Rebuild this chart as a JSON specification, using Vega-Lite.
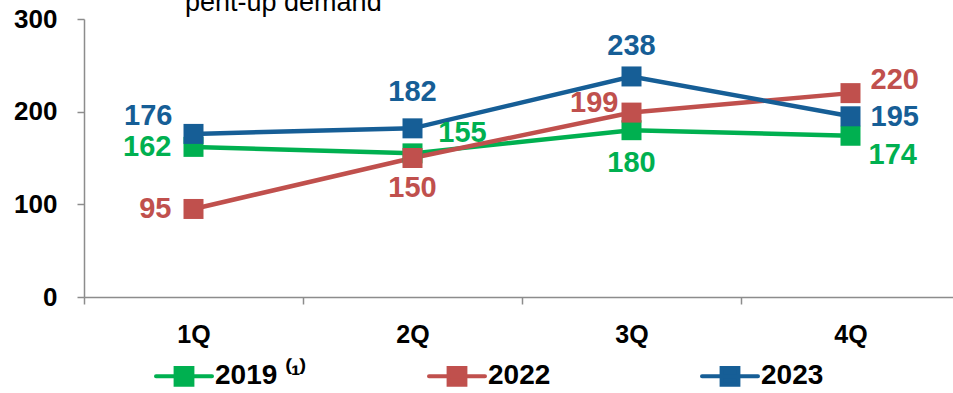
{
  "$schema": "https://vega.github.io/schema/vega-lite/v6.json",
  "autosize": "none",
  "width": 876,
  "height": 278,
  "padding": {"left": 84, "top": 19, "right": 0, "bottom": 96},
  "background": "white",
  "title": {
    "text": "pent-up demand",
    "font": "Liberation Sans",
    "fontSize": 27,
    "fontWeight": "normal",
    "color": "#000000",
    "anchor": "start",
    "frame": "group",
    "baseline": "alphabetic",
    "offset": 7,
    "dx": 101,
    "dy": 39
  },
  "data": {
    "values": [
      {"q": "1Q", "year": "2019", "v": 162},
      {"q": "2Q", "year": "2019", "v": 155},
      {"q": "3Q", "year": "2019", "v": 180},
      {"q": "4Q", "year": "2019", "v": 174},
      {"q": "1Q", "year": "2022", "v": 95},
      {"q": "2Q", "year": "2022", "v": 150},
      {"q": "3Q", "year": "2022", "v": 199},
      {"q": "4Q", "year": "2022", "v": 220},
      {"q": "1Q", "year": "2023", "v": 176},
      {"q": "2Q", "year": "2023", "v": 182},
      {"q": "3Q", "year": "2023", "v": 238},
      {"q": "4Q", "year": "2023", "v": 195}
    ]
  },
  "encoding": {
    "x": {
      "field": "q",
      "type": "nominal",
      "sort": ["1Q", "2Q", "3Q", "4Q"],
      "scale": {"type": "band", "paddingInner": 0, "paddingOuter": 0},
      "axis": {
        "title": null,
        "labelAngle": 0,
        "tickBand": "extent",
        "tickSize": 7,
        "tickColor": "#8c8c8c",
        "domainColor": "#8c8c8c",
        "domainWidth": 1.5,
        "tickWidth": 1.5,
        "labelFont": "Liberation Sans",
        "labelFontSize": 25,
        "labelFontWeight": "bold",
        "labelColor": "#000000",
        "labelPadding": 18,
        "grid": false
      }
    },
    "y": {
      "field": "v",
      "type": "quantitative",
      "scale": {"domain": [0, 300], "nice": false, "zero": true},
      "axis": {
        "title": null,
        "values": [0, 100, 200, 300],
        "tickSize": 7,
        "tickColor": "#8c8c8c",
        "domainColor": "#8c8c8c",
        "domainWidth": 1.5,
        "tickWidth": 1.5,
        "labelFont": "Liberation Sans",
        "labelFontSize": 26,
        "labelFontWeight": "bold",
        "labelColor": "#000000",
        "labelPadding": 20,
        "grid": false
      }
    },
    "color": {
      "field": "year",
      "type": "nominal",
      "scale": {"domain": ["2019", "2022", "2023"], "range": ["#00B050", "#C0504D", "#165E96"]},
      "legend": {
        "title": null,
        "orient": "none",
        "direction": "horizontal",
        "legendX": 70,
        "legendY": 327,
        "gridAlign": "all",
        "columnPadding": 114,
        "symbolType": "M-1,0H1M-0.3,-0.3H0.3V0.3H-0.3Z",
        "symbolSize": 3136,
        "symbolStrokeWidth": 4,
        "labelFont": "Liberation Sans",
        "labelFontSize": 28,
        "labelFontWeight": "bold",
        "labelColor": "#000000",
        "labelOffset": 1,
        "labelExpr": "datum.label == '2019' ? '2019 ⁽¹⁾' : datum.label",
        "encode": {
          "symbols": {
            "update": {
              "fill": {"scale": "color", "field": "value"},
              "stroke": {"scale": "color", "field": "value"},
              "strokeCap": {"value": "round"},
              "opacity": {"value": 1}
            }
          }
        }
      }
    }
  },
  "layer": [
    {"mark": {"type": "line", "strokeWidth": 4.5}},
    {"mark": {"type": "point", "shape": "square", "filled": true, "size": 400, "opacity": 1}},
    {
      "transform": [{"filter": "(datum.year == '2019' || datum.year == '2022') && datum.q == '1Q'"}],
      "mark": {"type": "text", "font": "Liberation Sans", "fontSize": 29, "fontWeight": "bold", "align": "right", "baseline": "middle", "dx": -22, "dy": 0},
      "encoding": {"text": {"field": "v"}}
    },
    {
      "transform": [{"filter": "datum.year == '2023' && datum.q == '1Q'"}],
      "mark": {"type": "text", "font": "Liberation Sans", "fontSize": 29, "fontWeight": "bold", "align": "right", "baseline": "middle", "dx": -21, "dy": -18},
      "encoding": {"text": {"field": "v"}}
    },
    {
      "transform": [{"filter": "datum.year == '2023' && datum.q == '2Q'"}],
      "mark": {"type": "text", "font": "Liberation Sans", "fontSize": 29, "fontWeight": "bold", "align": "center", "baseline": "middle", "dx": 0, "dy": -36},
      "encoding": {"text": {"field": "v"}}
    },
    {
      "transform": [{"filter": "datum.year == '2019' && datum.q == '2Q'"}],
      "mark": {"type": "text", "font": "Liberation Sans", "fontSize": 29, "fontWeight": "bold", "align": "center", "baseline": "middle", "dx": 50, "dy": -20},
      "encoding": {"text": {"field": "v"}}
    },
    {
      "transform": [{"filter": "datum.year == '2022' && datum.q == '2Q'"}],
      "mark": {"type": "text", "font": "Liberation Sans", "fontSize": 29, "fontWeight": "bold", "align": "center", "baseline": "middle", "dx": 0, "dy": 30},
      "encoding": {"text": {"field": "v"}}
    },
    {
      "transform": [{"filter": "datum.year == '2023' && datum.q == '3Q'"}],
      "mark": {"type": "text", "font": "Liberation Sans", "fontSize": 29, "fontWeight": "bold", "align": "center", "baseline": "middle", "dx": 0, "dy": -30},
      "encoding": {"text": {"field": "v"}}
    },
    {
      "transform": [{"filter": "datum.year == '2022' && datum.q == '3Q'"}],
      "mark": {"type": "text", "font": "Liberation Sans", "fontSize": 29, "fontWeight": "bold", "align": "right", "baseline": "middle", "dx": -13, "dy": -10},
      "encoding": {"text": {"field": "v"}}
    },
    {
      "transform": [{"filter": "datum.year == '2019' && datum.q == '3Q'"}],
      "mark": {"type": "text", "font": "Liberation Sans", "fontSize": 29, "fontWeight": "bold", "align": "center", "baseline": "middle", "dx": 0, "dy": 33},
      "encoding": {"text": {"field": "v"}}
    },
    {
      "transform": [{"filter": "datum.year == '2022' && datum.q == '4Q'"}],
      "mark": {"type": "text", "font": "Liberation Sans", "fontSize": 29, "fontWeight": "bold", "align": "left", "baseline": "middle", "dx": 20, "dy": -13},
      "encoding": {"text": {"field": "v"}}
    },
    {
      "transform": [{"filter": "datum.year == '2023' && datum.q == '4Q'"}],
      "mark": {"type": "text", "font": "Liberation Sans", "fontSize": 29, "fontWeight": "bold", "align": "left", "baseline": "middle", "dx": 20, "dy": 1},
      "encoding": {"text": {"field": "v"}}
    },
    {
      "transform": [{"filter": "datum.year == '2019' && datum.q == '4Q'"}],
      "mark": {"type": "text", "font": "Liberation Sans", "fontSize": 29, "fontWeight": "bold", "align": "left", "baseline": "middle", "dx": 18, "dy": 19},
      "encoding": {"text": {"field": "v"}}
    }
  ],
  "config": {
    "view": {"stroke": null}
  }
}
